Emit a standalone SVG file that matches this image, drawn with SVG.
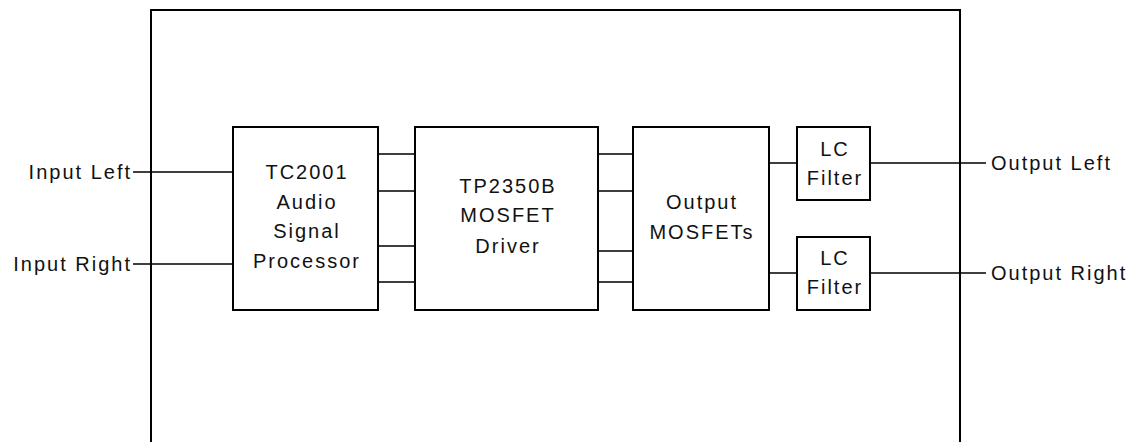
<svg xmlns="http://www.w3.org/2000/svg" width="1135" height="442" viewBox="0 0 1135 442">
<style>
.box{fill:#fff;stroke:#000;stroke-width:2}
.w{fill:none;stroke:#000;stroke-width:1.3}
.frame{fill:none;stroke:#000;stroke-width:2}
text{font-family:"Liberation Sans",Arial,sans-serif;font-size:20px;letter-spacing:2px;fill:#111}
.c{text-anchor:middle}
.e{text-anchor:end}
</style>
<rect width="1135" height="442" fill="#fff"/>
<path id="frame" class="frame" d="M151,442 V10 H960 V442"/>
<g id="connectors">
<path class="w" d="M133,172 H233 M133,264 H233"/>
<path class="w" d="M378,154 H415 M378,191 H415 M378,246 H415 M378,282 H415"/>
<path class="w" d="M598,154 H633 M598,191 H633 M598,251 H633 M598,282 H633"/>
<path class="w" d="M769,163 H797 M769,273 H797"/>
<path class="w" d="M870,163 H986 M870,273 H986"/>
</g>
<g id="input-left"><text class="e" x="132" y="179">Input Left</text></g>
<g id="input-right"><text class="e" x="132" y="271">Input Right</text></g>
<g id="tc2001">
<rect class="box" x="233" y="127" width="145" height="183"/>
<text class="c" x="307" y="179">TC2001</text>
<text class="c" x="307" y="209">Audio</text>
<text class="c" x="307" y="238">Signal</text>
<text class="c" x="307" y="268">Processor</text>
</g>
<g id="tp2350b">
<rect class="box" x="415" y="127" width="183" height="183"/>
<text class="c" x="508" y="193">TP2350B</text>
<text class="c" x="508" y="222">MOSFET</text>
<text class="c" x="508" y="253">Driver</text>
</g>
<g id="output-mosfets">
<rect class="box" x="633" y="127" width="136" height="183"/>
<text class="c" x="702" y="209">Output</text>
<text class="c" x="702" y="239">MOSFETs</text>
</g>
<g id="lc-filter-left">
<rect class="box" x="797" y="127" width="73" height="73"/>
<text class="c" x="835" y="156">LC</text>
<text class="c" x="835" y="185">Filter</text>
</g>
<g id="lc-filter-right">
<rect class="box" x="797" y="237" width="73" height="73"/>
<text class="c" x="835" y="265">LC</text>
<text class="c" x="835" y="294">Filter</text>
</g>
<g id="output-left"><text x="991" y="170">Output Left</text></g>
<g id="output-right"><text x="991" y="280">Output Right</text></g>
</svg>
